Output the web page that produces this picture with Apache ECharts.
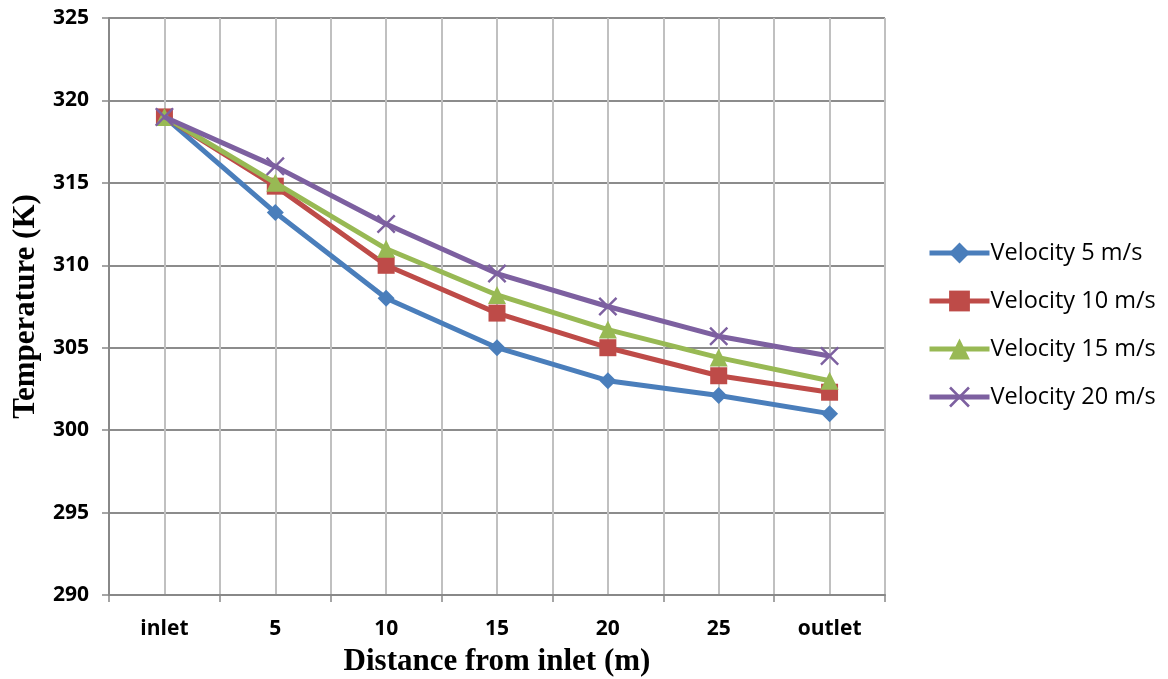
<!DOCTYPE html>
<html><head><meta charset="utf-8">
<script src="https://cdn.jsdelivr.net/npm/echarts@6/dist/echarts.min.js"></script>
<style>html,body{margin:0;padding:0;background:#fff}#c{width:1168px;height:679px}</style>
</head><body><div id="c"></div>
<script>
const categories = ['inlet','5','10','15','20','25','outlet'];
const v5  = [319, 313.2, 308.0, 305.0, 303.0, 302.1, 301.0];
const v10 = [319, 314.8, 310.0, 307.1, 305.0, 303.3, 302.3];
const v15 = [319, 315.0, 311.0, 308.2, 306.1, 304.4, 303.0];
const v20 = [319, 316.0, 312.5, 309.5, 307.5, 305.7, 304.5];
const seriesNames = ['Velocity 5 m/s','Velocity 10 m/s','Velocity 15 m/s','Velocity 20 m/s'];
const colors = ['#4A7EBB','#BE4B48','#98B954','#7D60A0'];
const xPath = 'path://M0,0.9L0.9,0L5,4.1L9.1,0L10,0.9L5.9,5L10,9.1L9.1,10L5,5.9L0.9,10L0,9.1L4.1,5Z';
const symbols = ['diamond','rect','triangle',xPath];
const sizes = [17,17,18,19];
const values = [v5,v10,v15,v20];

const chart = echarts.init(document.getElementById('c'));
chart.setOption({
  animation:false,
  backgroundColor:'#fff',
  grid:{left:109,right:283,top:18,bottom:84,outerBoundsMode:'none',containLabel:false},
  legend:{
    orient:'vertical', left:922, top:232, itemGap:16,
    itemWidth:60, itemHeight:26,
    lineStyle:{width:5},
    textStyle:{fontFamily:'Open Sans, Liberation Sans, sans-serif',fontSize:23.5,lineHeight:32,color:'#000',padding:[0,0,0,-4]},
    data:seriesNames
  },
  xAxis:[{
    type:'category', data:categories, boundaryGap:true,
    axisLine:{lineStyle:{color:'#888',width:2}},
    axisTick:{show:true,length:7,lineStyle:{color:'#888',width:1.5}},
    axisLabel:{fontFamily:'Open Sans, Liberation Sans, sans-serif',fontWeight:'bold',fontSize:21,color:'#000',margin:24},
    splitLine:{show:false},
    name:'Distance from inlet (m)', nameLocation:'middle', nameGap:51,
    nameTextStyle:{fontFamily:'Liberation Serif, serif',fontWeight:'bold',fontSize:31,color:'#000'}
  },{
    type:'value', min:0, max:14, interval:1, position:'bottom',
    axisLine:{show:false}, axisTick:{show:false}, axisLabel:{show:false},
    splitLine:{show:true,lineStyle:{color:'#c0c0c0',width:2}}
  }],
  yAxis:{
    type:'value', min:290, max:325, interval:5,
    axisLine:{show:true,lineStyle:{color:'#888',width:2}},
    axisTick:{show:true,length:7,lineStyle:{color:'#888',width:1.5}},
    axisLabel:{fontFamily:'Open Sans, Liberation Sans, sans-serif',fontWeight:'bold',fontSize:21,color:'#000',margin:20},
    splitLine:{show:true,lineStyle:{color:'#8c8c8c',width:2}},
    name:'Temperature (K)', nameLocation:'middle', nameGap:68,
    nameTextStyle:{fontFamily:'Liberation Serif, serif',fontWeight:'bold',fontSize:31,color:'#000'}
  },
  series: seriesNames.map((n,i)=>({
    name:n, type:'line', xAxisIndex:0, data:values[i],
    symbol:symbols[i], symbolSize:sizes[i],
    lineStyle:{color:colors[i],width:5},
    itemStyle:{color:colors[i]},
    z:2+i
  }))
});
</script></body></html>
